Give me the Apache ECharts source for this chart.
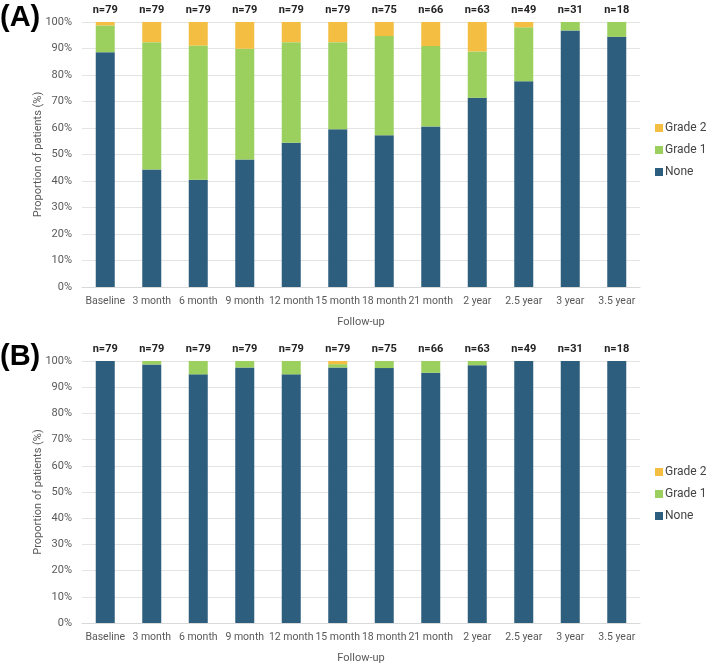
<!DOCTYPE html>
<html>
<head>
<meta charset="utf-8">
<title>Proportion of patients by grade</title>
<script src="https://cdn.jsdelivr.net/npm/echarts@6/dist/echarts.min.js"></script>
<style>
  html, body { margin: 0; padding: 0; background: #fff; }
  #main { width: 709px; height: 665px; }
</style>
</head>
<body>
<div id="main"></div>
<script>
// follow-up time points
var categories = ['Baseline', '3 month', '6 month', '9 month', '12 month', '15 month',
                  '18 month', '21 month', '2 year', '2.5 year', '3 year', '3.5 year'];
var nCounts = [79, 79, 79, 79, 79, 79, 75, 66, 63, 49, 31, 18];

// panel A, % of patients
var noneA   = [88.6, 44.3, 40.5, 48.1, 54.4, 59.5, 57.3, 60.6, 71.4, 77.6, 96.8, 94.4];
var grade1A = [10.1, 48.1, 50.6, 41.8, 38.0, 32.9, 37.4, 30.3, 17.5, 20.4, 3.2, 5.6];
var grade2A = [1.3, 7.6, 8.9, 10.1, 7.6, 7.6, 5.3, 9.1, 11.1, 2.0, 0, 0];

// panel B, % of patients
var noneB   = [100, 98.7, 94.9, 97.5, 94.9, 97.5, 97.3, 95.5, 98.4, 100, 100, 100];
var grade1B = [0, 1.3, 5.1, 2.5, 5.1, 1.3, 2.7, 4.5, 1.6, 0, 0, 0];
var grade2B = [0, 0, 0, 0, 0, 1.2, 0, 0, 0, 0, 0, 0];

var yTicks = [0, 10, 20, 30, 40, 50, 60, 70, 80, 90, 100];

var colNone = '#2e5e7e';
var colG1 = '#9bcf5e';
var colG2 = '#f4be42';
var grey = '#595959';

var chart = echarts.init(document.getElementById('main'));

function xBottom(idx) {
  return {
    type: 'category', gridIndex: idx, data: categories,
    axisTick: { show: false },
    axisLine: { lineStyle: { color: '#d9d9d9' } },
    axisLabel: { color: grey, fontSize: 10.5, margin: 9, interval: 0, fontFamily: 'Roboto' },
    name: 'Follow-up', nameLocation: 'middle', nameGap: 30,
    nameTextStyle: { color: grey, fontSize: 11, fontFamily: 'Roboto' }
  };
}
function xTop(idx) {
  return {
    type: 'category', gridIndex: idx, position: 'top', data: categories,
    axisTick: { show: false }, axisLine: { show: false },
    axisLabel: {
      interval: 0, margin: 6, color: '#222', fontSize: 11, fontWeight: 'bold', fontFamily: 'Roboto',
      formatter: function (v, i) { return 'n=' + nCounts[i]; }
    }
  };
}
function yAx(idx) {
  return {
    type: 'value', gridIndex: idx, min: 0, max: 100, interval: 10,
    axisLine: { show: false }, axisTick: { show: false },
    splitLine: { lineStyle: { color: '#e4e4e4' } },
    axisLabel: { color: grey, fontSize: 11, margin: 10, fontFamily: 'Roboto',
      formatter: function (v) { return yTicks.indexOf(v) >= 0 ? v + '%' : ''; } },
    name: 'Proportion of patients (%)', nameLocation: 'middle', nameGap: 38,
    nameMoveOverlap: false,
    nameTextStyle: { color: grey, fontSize: 11, fontFamily: 'Roboto' }
  };
}
function bars(name, data, color, idx, stack) {
  return {
    name: name, type: 'bar', stack: stack, data: data,
    xAxisIndex: idx * 2, yAxisIndex: idx,
    barWidth: 19, itemStyle: { color: color },
    emphasis: { disabled: true }
  };
}
function legendAt(top) {
  return {
    left: 655, top: top, padding: 0, orient: 'vertical', icon: 'rect',
    itemWidth: 8, itemHeight: 8, itemGap: 10,
    data: ['Grade 2', 'Grade 1', 'None'],
    textStyle: { color: '#444', fontSize: 12, fontFamily: 'Roboto', padding: [0, 0, 0, -3] },
    selectedMode: false
  };
}

var option = {
  animation: false,
  textStyle: { fontFamily: 'Roboto' },
  graphic: [
    { type: 'text', left: 0, top: 3, style: { text: '(A)', font: 'bold 29px "Liberation Sans"', fill: '#000' } },
    { type: 'text', left: 0, top: 342, style: { text: '(B)', font: 'bold 29px "Liberation Sans"', fill: '#000' } }
  ],
  grid: [
    { left: 82, top: 22, width: 558, height: 265 },
    { left: 82, top: 361, width: 558, height: 265 }
  ],
  legend: [legendAt(122), legendAt(466)],
  xAxis: [xBottom(0), xTop(0), xBottom(1), xTop(1)],
  yAxis: [yAx(0), yAx(1)],
  series: [
    bars('None', noneA, colNone, 0, 'A'),
    bars('Grade 1', grade1A, colG1, 0, 'A'),
    bars('Grade 2', grade2A, colG2, 0, 'A'),
    bars('None', noneB, colNone, 1, 'B'),
    bars('Grade 1', grade1B, colG1, 1, 'B'),
    bars('Grade 2', grade2B, colG2, 1, 'B')
  ]
};
// put the second pair of x axes on the lower grid
option.xAxis[2].gridIndex = 1;
option.xAxis[3].gridIndex = 1;

chart.setOption(option);
</script>
</body>
</html>
